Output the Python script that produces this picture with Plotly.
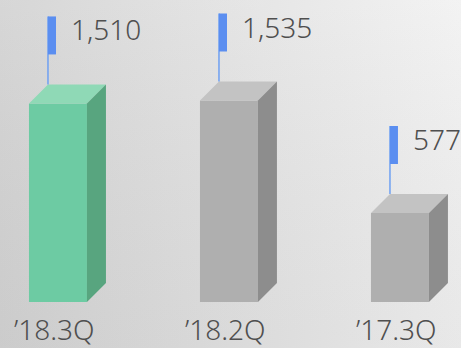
import plotly.graph_objects as go

# ---- data ----
categories = ["\u201918.3Q", "\u201918.2Q", "\u201917.3Q"]
values = [1510, 1535, 577]
value_labels = ["1,510", "1,535", "577"]
highlight = [True, False, False]

# ---- layout constants ----
W, H = 461, 348
X_RANGE = [-0.339, 2.357]
Y_RANGE = [-573, 2391]
BASE = -181
BAR_W = 0.339
ux = (X_RANGE[1] - X_RANGE[0]) / W
uy = (Y_RANGE[1] - Y_RANGE[0]) / H
DX, DY = 19 * ux, 19 * uy
POLE_H = 68 * uy
FLAG_W, FLAG_H = 8 * ux, 38 * uy

GREEN = dict(front="#6dcba3", top="#8fd9b6", side="#58a57f")
GRAY = dict(front="#afafaf", top="#c3c3c3", side="#8d8d8d")
BLUE = "#5b8ef0"
TXT = "#4f4f4f"
FONT = "Noto Sans"

fig = go.Figure()

# background gradient
bx = [X_RANGE[0], X_RANGE[1], X_RANGE[1], X_RANGE[0], X_RANGE[0]]
by = [Y_RANGE[0], Y_RANGE[0], Y_RANGE[1], Y_RANGE[1], Y_RANGE[0]]
fig.add_trace(go.Scatter(x=bx, y=by, mode="lines", fill="toself", line=dict(width=0),
                         fillgradient=dict(type="horizontal",
                                           colorscale=[[0, "#d4d4d4"], [1, "#f2f2f2"]]),
                         hoverinfo="skip", showlegend=False))
fig.add_trace(go.Scatter(x=bx, y=by, mode="lines", fill="toself", line=dict(width=0),
                         fillgradient=dict(type="vertical",
                                           colorscale=[[0, "rgba(0,0,0,0.04)"], [1, "rgba(255,255,255,0.06)"]]),
                         hoverinfo="skip", showlegend=False))

def poly(xs, ys, color):
    fig.add_trace(go.Scatter(x=xs + [xs[0]], y=ys + [ys[0]], mode="lines", fill="toself",
                             fillcolor=color, line=dict(width=0, color=color),
                             hoverinfo="skip", showlegend=False))

annotations = []
for i, (cat, v, lab, hl) in enumerate(zip(categories, values, value_labels, highlight)):
    c = GREEN if hl else GRAY
    x0, x1 = i - BAR_W / 2, i + BAR_W / 2
    y0, y1 = BASE, v
    poly([x0, x1, x1, x0], [y0, y0, y1, y1], c["front"])
    poly([x0, x1, x1 + DX, x0 + DX], [y1, y1, y1 + DY, y1 + DY], c["top"])
    poly([x1, x1 + DX, x1 + DX, x1], [y0, y0 + DY, y1 + DY, y1], c["side"])
    # flag pole
    px = x0 + DX
    ptop = y1 + DY + POLE_H
    fig.add_trace(go.Scatter(x=[px, px], y=[y1 + DY, ptop], mode="lines",
                             line=dict(color="#6fa0f2", width=1.5),
                             hoverinfo="skip", showlegend=False))
    poly([px, px + FLAG_W, px + FLAG_W, px], [ptop, ptop, ptop - FLAG_H, ptop - FLAG_H], BLUE)
    annotations.append(dict(x=px + 21 * ux, y=ptop - 13 * uy, xref="x", yref="y",
                            text=lab, showarrow=False, xanchor="left", yanchor="middle",
                            font=dict(family=FONT, size=28, color=TXT, weight=300)))
    annotations.append(dict(x=i - 3 * ux, y=1 - 329 / H, xref="x", yref="paper",
                            text=cat, showarrow=False, xanchor="center", yanchor="middle",
                            font=dict(family=FONT, size=28, color=TXT, weight=300)))

fig.update_layout(
    width=W, height=H, margin=dict(l=0, r=0, t=0, b=0),
    paper_bgcolor="#e4e4e4", plot_bgcolor="#e4e4e4",
    xaxis=dict(range=X_RANGE, visible=False, fixedrange=True),
    yaxis=dict(range=Y_RANGE, visible=False, fixedrange=True),
    annotations=annotations, showlegend=False,
)
fig.write_html("out.html", config=dict(displayModeBar=False))
